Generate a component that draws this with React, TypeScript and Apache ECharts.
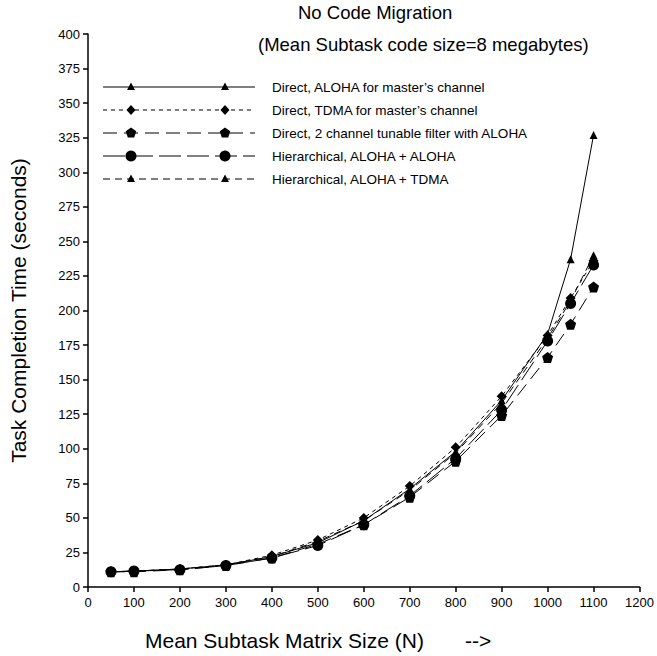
import React, { useEffect, useRef } from "react";
import * as echarts from "echarts";

const matrixSizes = [50, 100, 200, 300, 400, 500, 600, 700, 800, 900, 1000, 1050, 1100];
const directAloha = [11, 11.5, 13, 16, 22, 32, 48, 71, 98, 135, 183, 237, 327];
const directTdma = [11, 11.5, 13, 16, 23, 34, 50, 73, 101, 138, 182, 209, 236];
const directTunable = [11, 11, 12.5, 15.5, 21, 31, 45, 65, 91, 124, 166, 190, 217];
const hierAlohaAloha = [11, 11.5, 12.5, 15.5, 21, 30, 45, 66, 93, 128, 178, 205, 233];
const hierAlohaTdma = [11, 11.5, 13, 16, 22, 33, 48, 70, 97, 133, 180, 207, 240];

const seriesNames = [
  "Direct, ALOHA for master’s channel",
  "Direct, TDMA for master’s channel",
  "Direct, 2 channel tunable filter with ALOHA",
  "Hierarchical, ALOHA + ALOHA",
  "Hierarchical, ALOHA + TDMA",
];

const FONT = "Liberation Sans, Arial, Helvetica, sans-serif";
const PENTAGON = "path://M0,-1 L0.951,-0.309 L0.588,0.809 L-0.588,0.809 L-0.951,-0.309 Z";

const styles = [
  { symbol: "triangle", size: 8, dash: "solid" as any, data: directAloha, kind: "tri" },
  { symbol: "diamond", size: 10, dash: [4, 4], data: directTdma, kind: "dia" },
  { symbol: PENTAGON, size: 11, dash: [14, 7], data: directTunable, kind: "pent" },
  { symbol: "circle", size: 11, dash: [22, 6], data: hierAlohaAloha, kind: "circ" },
  { symbol: "triangle", size: 8, dash: [7, 5], data: hierAlohaTdma, kind: "tri" },
];

function markerGraphic(kind: string, cx: number, cy: number): any {
  if (kind === "circ") {
    return { type: "circle", shape: { cx, cy, r: 5.5 }, style: { fill: "#000" } };
  }
  if (kind === "dia") {
    return {
      type: "polygon",
      shape: { points: [[cx, cy - 5], [cx + 4.5, cy], [cx, cy + 5], [cx - 4.5, cy]] },
      style: { fill: "#000" },
    };
  }
  if (kind === "pent") {
    const pts: number[][] = [];
    for (let k = 0; k < 5; k++) {
      const a = -Math.PI / 2 + (k * 2 * Math.PI) / 5;
      pts.push([cx + 5.5 * Math.cos(a), cy + 5.5 * Math.sin(a)]);
    }
    return { type: "polygon", shape: { points: pts }, style: { fill: "#000" } };
  }
  return {
    type: "polygon",
    shape: { points: [[cx, cy - 4.5], [cx + 4, cy + 3], [cx - 4, cy + 3]] },
    style: { fill: "#000" },
  };
}

function textG(text: string, x: number, y: number, size: number, align = "left"): any {
  return {
    type: "text",
    x,
    y,
    style: {
      text,
      font: `${size}px ${FONT}`,
      fill: "#000",
      align,
      textAlign: align,
      verticalAlign: "middle",
      textVerticalAlign: "middle",
    },
  };
}

export default function App() {
  const ref = useRef<HTMLDivElement>(null);
  useEffect(() => {
    if (!ref.current) return;
    const chart = echarts.init(ref.current, null, { renderer: "svg" });

    const legendGraphics: any[] = [];
    styles.forEach((s, i) => {
      const y = 87 + i * 23;
      legendGraphics.push({
        type: "line",
        shape: { x1: 103, y1: y, x2: 255, y2: y },
        style: { stroke: "#000", lineWidth: 1, lineDash: s.dash === "solid" ? null : s.dash },
      });
      legendGraphics.push(markerGraphic(s.kind, 131, y));
      legendGraphics.push(markerGraphic(s.kind, 225, y));
      legendGraphics.push(textG(seriesNames[i], 272, y, 13.5));
    });

    chart.setOption({
      animation: false,
      backgroundColor: "#fff",
      textStyle: { fontFamily: FONT },
      grid: { left: 88, right: 16, top: 34, bottom: 69, containLabel: false },
      xAxis: {
        type: "value",
        min: 0,
        max: 1200,
        interval: 100,
        axisLine: { onZero: false, lineStyle: { color: "#000", width: 1.5 } },
        axisTick: { show: true, inside: false, length: 5, lineStyle: { color: "#000", width: 1.5 } },
        axisLabel: {
          color: "#000",
          fontSize: 13,
          fontFamily: FONT,
          margin: 9,
          formatter: (v: number) => String(v),
        },
        splitLine: { show: false },
      },
      yAxis: {
        type: "value",
        min: 0,
        max: 400,
        interval: 25,
        name: "Task Completion Time (seconds)",
        nameLocation: "middle",
        nameGap: 59,
        nameRotate: 90,
        nameTextStyle: { color: "#000", fontSize: 21, fontFamily: FONT },
        axisLine: { show: true, onZero: false, lineStyle: { color: "#000", width: 1.5 } },
        axisTick: { show: true, inside: false, length: 5, lineStyle: { color: "#000", width: 1.5 } },
        axisLabel: {
          color: "#000",
          fontSize: 13,
          fontFamily: FONT,
          margin: 8,
          formatter: (v: number) => String(v),
        },
        splitLine: { show: false },
      },
      graphic: [
        ...legendGraphics,
        textG("No Code Migration", 298, 12, 18.5),
        textG("(Mean Subtask code size=8 megabytes)", 258, 44, 18.5),
        textG("Mean Subtask Matrix Size (N)", 145, 640, 21),
        textG("-->", 465, 640, 21),
      ],
      series: styles.map((s, i) => ({
        type: "line",
        name: seriesNames[i],
        data: matrixSizes.map((x, j) => [x, s.data[j]]),
        symbol: s.symbol,
        symbolSize: s.size,
        showSymbol: true,
        itemStyle: { color: "#000", borderWidth: 0 },
        lineStyle: { color: "#000", width: 1, type: s.dash },
        z: 2 + i,
      })),
    });
    return () => chart.dispose();
  }, []);
  return (
    <div
      ref={ref}
      style={{ position: "fixed", left: 0, top: 0, width: 657, height: 656 }}
    />
  );
}
